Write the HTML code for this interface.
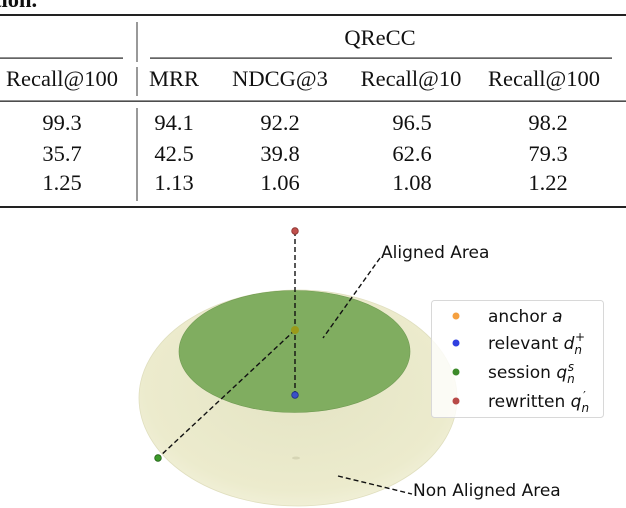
<!DOCTYPE html>
<html><head><meta charset="utf-8"><style>
body{margin:0;background:#fff;width:626px;height:508px;overflow:hidden}
svg{display:block}
.t{font-family:"Liberation Serif",serif;font-size:22.5px;fill:#111}
.l{font-family:"DejaVu Sans",sans-serif;font-size:17px;fill:#111}
</style></head><body>
<svg width="626" height="508" viewBox="0 0 626 508">
<defs>
<radialGradient id="og" cx="0.5" cy="0.45" r="0.6">
<stop offset="0" stop-color="#e4e4c4"/><stop offset="0.8" stop-color="#ecebcd"/><stop offset="1" stop-color="#f3f2dc"/>
</radialGradient>
</defs>
<g>
<text x="-6" y="7" class="t" style="font-weight:bold">tion.</text>
<rect x="0" y="14" width="626" height="2" fill="#222"/>
<text x="380" y="45" class="t" text-anchor="middle">QReCC</text>
<rect x="0" y="57.5" width="123" height="1.2" fill="#222"/>
<rect x="150" y="57.5" width="462" height="1.2" fill="#222"/>
<rect x="136.5" y="22" width="1" height="40" fill="#333"/>
<rect x="136.5" y="67" width="1" height="29" fill="#333"/>
<rect x="136.5" y="108" width="1" height="93" fill="#333"/>
<g text-anchor="middle">
<text x="62" y="86" class="t">Recall@100</text>
<text x="174" y="86" class="t">MRR</text>
<text x="280" y="86" class="t">NDCG@3</text>
<text x="411" y="86" class="t">Recall@10</text>
<text x="544" y="86" class="t">Recall@100</text>
</g>
<rect x="0" y="100.5" width="626" height="1.3" fill="#222"/>
<g text-anchor="middle">
<text x="62" y="130" class="t">99.3</text>
<text x="174" y="130" class="t">94.1</text>
<text x="280" y="130" class="t">92.2</text>
<text x="412" y="130" class="t">96.5</text>
<text x="548" y="130" class="t">98.2</text>
<text x="62" y="161" class="t">35.7</text>
<text x="174" y="161" class="t">42.5</text>
<text x="280" y="161" class="t">39.8</text>
<text x="412" y="161" class="t">62.6</text>
<text x="548" y="161" class="t">79.3</text>
<text x="62" y="190" class="t">1.25</text>
<text x="174" y="190" class="t">1.13</text>
<text x="280" y="190" class="t">1.06</text>
<text x="412" y="190" class="t">1.08</text>
<text x="548" y="190" class="t">1.22</text>
</g>
<rect x="0" y="206" width="626" height="2" fill="#222"/>
</g>
<g>
<ellipse cx="298" cy="398" rx="159" ry="108" fill="url(#og)" stroke="#e0dfbf" stroke-width="0.8"/>
<ellipse cx="294.5" cy="351.5" rx="115.5" ry="61" fill="#80ad60" stroke="#6f9a52" stroke-width="0.6"/>
<ellipse cx="296" cy="458" rx="4" ry="1.5" fill="#d6d5b5"/>
<line x1="295" y1="231" x2="295" y2="395" stroke="#111" stroke-width="1.4" stroke-dasharray="5,3"/>
<line x1="295" y1="330" x2="158" y2="458" stroke="#111" stroke-width="1.4" stroke-dasharray="5,3"/>
<line x1="380" y1="258" x2="323" y2="338" stroke="#111" stroke-width="1.4" stroke-dasharray="5,3"/>
<line x1="338" y1="476" x2="412" y2="494" stroke="#111" stroke-width="1.4" stroke-dasharray="5,3"/>
<circle cx="295" cy="231" r="3.3" fill="#c0504d" stroke="#8a2f2c" stroke-width="0.8"/>
<circle cx="295" cy="330" r="4" fill="#9a9a1a"/>
<circle cx="295" cy="395" r="3.3" fill="#3a50c8" stroke="#1f2f8a" stroke-width="0.8"/>
<circle cx="158" cy="458" r="3.3" fill="#3c9a2a" stroke="#226116" stroke-width="0.8"/>
<text x="381" y="258" class="l">Aligned Area</text>
<text x="413" y="496" class="l">Non Aligned Area</text>
</g>
<g>
<rect x="431.5" y="300.5" width="172" height="117" rx="3" fill="#fff" fill-opacity="0.8" stroke="#d8d8d8"/>
<circle cx="456" cy="316" r="3.5" fill="#f5a040"/>
<text x="488" y="322" class="l">anchor <tspan font-style="italic">a</tspan></text>
<circle cx="456" cy="343" r="3.5" fill="#3040e0"/>
<text x="488" y="349" class="l">relevant <tspan font-style="italic">d</tspan><tspan font-style="italic" font-size="12" dy="5">n</tspan><tspan font-size="12" dx="-7" dy="-13">+</tspan></text>
<circle cx="456" cy="372" r="3.5" fill="#3c8a2a"/>
<text x="488" y="378" class="l">session <tspan font-style="italic">q</tspan><tspan font-style="italic" font-size="12" dy="5">n</tspan><tspan font-style="italic" font-size="12" dx="-7" dy="-12">s</tspan></text>
<circle cx="456" cy="401" r="3.5" fill="#b84a48"/>
<text x="488" y="407" class="l">rewritten <tspan font-style="italic">q</tspan><tspan font-style="italic" font-size="12" dy="5">n</tspan><tspan font-size="12" dx="-6" dy="-12">′</tspan></text>
</g>
</svg>
</body></html>
